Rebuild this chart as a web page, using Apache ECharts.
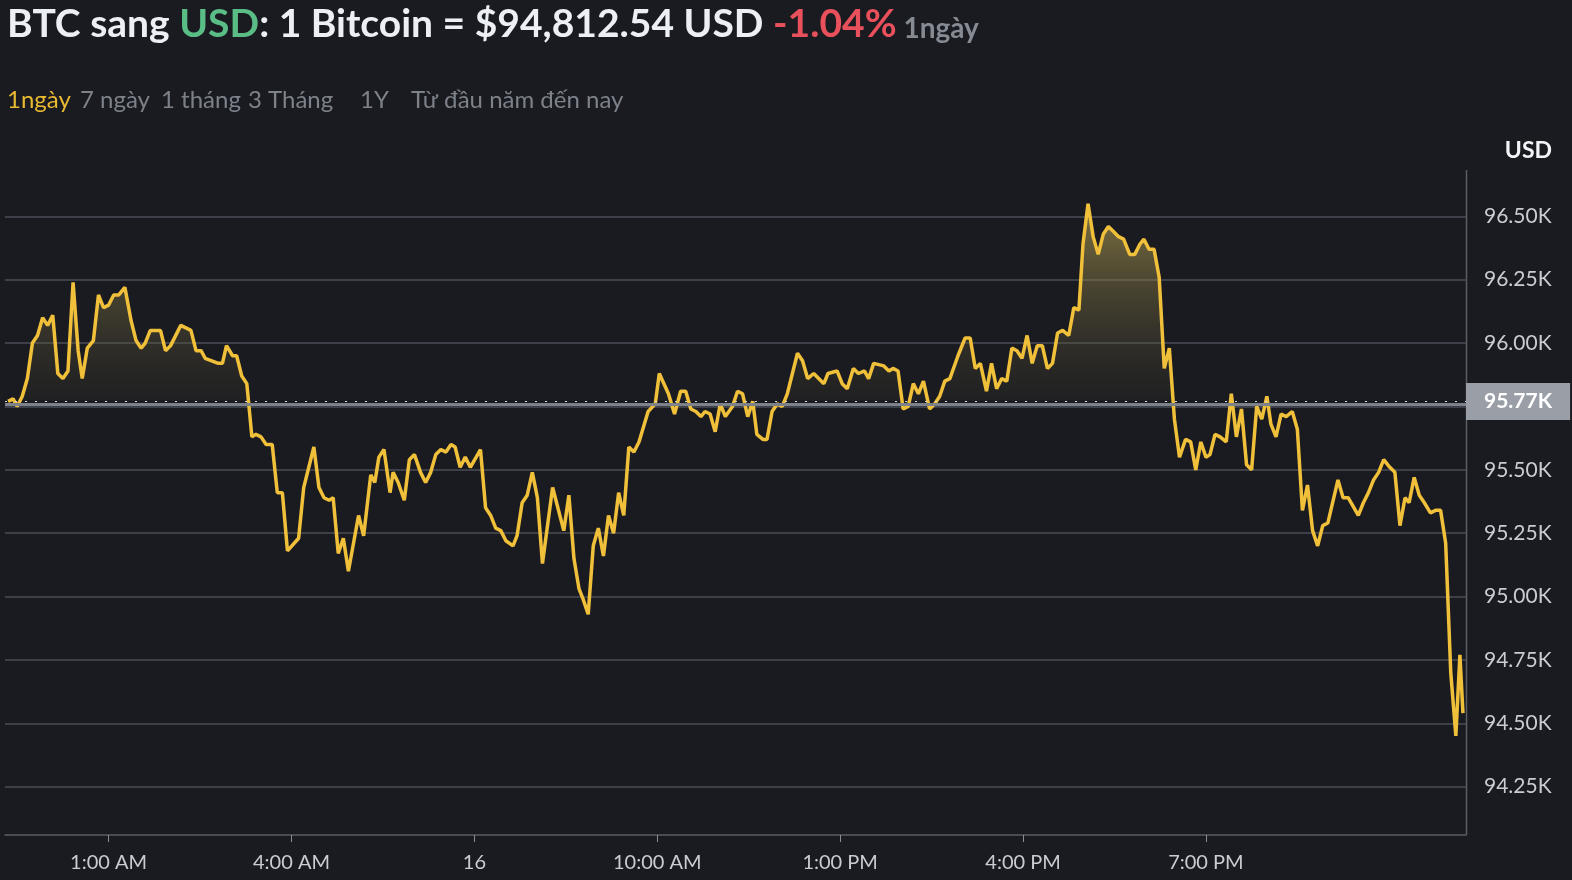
<!DOCTYPE html>
<html><head><meta charset="utf-8">
<script src="https://cdn.jsdelivr.net/npm/echarts@6/dist/echarts.min.js"></script>
<style>html,body{margin:0;padding:0;background:#1a1b20}#c{width:1572px;height:880px}</style>
</head><body><div id="c"></div>
<script>
// minutes since midnight of the 16th
const minutes = [-39,-34,-30,-25,-20,-15,-10,-5,0,5,10,15,20,25,30,34,39,45,50,55,60,65,70,76,82,87,92,96,101,111,116,121,131,136,141,146,151,155,168,172,176,182,186,191,196,201,205,210,215,221,226,231,236,247,252,262,267,272,277,281,286,291,296,306,311,
318,322,326,331,337,340,345,351,356,361,367,372,377,382,387,392,397,401,406,411,416,426,431,436,441,446,451,458,462,467,472,477,482,487,497,508,513,518,523,527,532,537,542,547,552,557,562,567,572,577,582,591,598,602,611,617,623,628,633,638,643,647,652,657,662,667,674,679,
684,689,694,698,704,708,713,718,723,728,738,743,748,754,764,768,777,782,787,793,798,804,808,813,823,828,832,837,842,847,852,857,862,868,873,878,883,888,896,903,908,913,918,924,929,934,939,944,949,954,959,964,969,974,979,984,989,994,999,1005,1010,1015,1019,1024,1029,1034,1039,1044,1049,1054,1059,1065,1070,1075,1079,1084,1089,1094,1099,1104,
1109,1114,1120,1125,1130,1135,1140,1144,1149,1154,1160,1165,1170,1175,1180,1185,1190,1195,1200,1204,1209,1214,1219,1225,1230,1235,1240,1245,1250,1255,1260,1270,1275,1280,1290,1295,1300,1305,1310,1315,1321,1326,1331,1336,1340,1345,1350,1355,1361,1366,1371,1376,1381,1386,1390,1393];
// price in thousands USD
const prices = [95.77,95.78,95.75,95.79,95.86,96.00,96.03,96.10,96.07,96.11,95.88,95.86,95.89,96.24,95.97,95.86,95.98,96.01,96.19,96.14,96.15,96.19,96.19,96.22,96.09,96.01,95.98,96.00,96.05,96.05,95.97,95.99,96.07,96.06,96.05,95.97,95.97,95.94,95.92,95.92,95.99,95.95,95.95,95.87,95.84,95.63,95.64,95.63,95.60,95.60,95.41,95.41,95.18,95.23,95.43,95.59,95.43,95.39,95.38,95.39,95.17,95.23,95.10,95.32,95.24,
95.48,95.45,95.55,95.58,95.41,95.49,95.45,95.38,95.54,95.56,95.49,95.45,95.49,95.56,95.58,95.57,95.60,95.59,95.51,95.55,95.51,95.58,95.35,95.32,95.27,95.26,95.22,95.20,95.24,95.37,95.40,95.49,95.39,95.13,95.43,95.26,95.40,95.15,95.03,94.99,94.93,95.20,95.27,95.16,95.32,95.25,95.41,95.32,95.59,95.57,95.61,95.73,95.76,95.88,95.80,95.72,95.81,95.81,95.74,95.73,95.71,95.73,95.72,95.65,95.76,95.71,95.75,95.81,
95.80,95.71,95.77,95.64,95.62,95.62,95.73,95.76,95.75,95.80,95.96,95.93,95.86,95.88,95.84,95.88,95.89,95.84,95.82,95.90,95.88,95.89,95.86,95.92,95.91,95.89,95.90,95.89,95.74,95.75,95.84,95.80,95.85,95.74,95.76,95.79,95.85,95.86,95.95,96.02,96.02,95.90,95.92,95.81,95.92,95.82,95.86,95.85,95.98,95.97,95.94,96.03,95.92,95.99,95.99,95.90,95.92,96.04,96.05,96.03,96.14,96.13,96.39,96.55,96.42,96.35,96.43,96.46,96.44,96.42,96.41,96.35,96.35,96.39,96.41,96.37,96.37,96.26,95.90,95.98,
95.70,95.55,95.62,95.61,95.50,95.61,95.55,95.56,95.64,95.63,95.61,95.80,95.63,95.74,95.52,95.50,95.75,95.70,95.79,95.68,95.63,95.72,95.71,95.73,95.66,95.34,95.44,95.26,95.20,95.28,95.29,95.46,95.39,95.39,95.32,95.37,95.41,95.46,95.49,95.54,95.51,95.49,95.28,95.39,95.37,95.47,95.40,95.37,95.33,95.34,95.34,95.21,94.70,94.45,94.77,94.54];
const tickMinutes = [60,240,420,600,780,960,1140];
const tickLabels = ['1:00 AM','4:00 AM','16','10:00 AM','1:00 PM','4:00 PM','7:00 PM'];
const refPrice = 95.77;
const ranges = ['1ngày','7 ngày','1 tháng','3 Tháng','1Y','Từ đầu năm đến nay'];

const font = 'Lato, "Open Sans", sans-serif';
const chart = echarts.init(document.getElementById('c'), null, {renderer:'canvas'});
const data = minutes.map((m,i)=>[m, prices[i]]);
const rangeX = [7,80,161,248,360,411];
chart.setOption({
  backgroundColor:'#1a1b20',
  animation:false,
  grid:{left:5,right:106,top:153,bottom:30},
  title:{left:2,top:0,text:'{w|BTC sang }{g|USD}{w|: 1 Bitcoin = $94,812.54 USD }{r|-1.04%}{s| 1ngày}',
    textStyle:{rich:{
      w:{fontFamily:font,fontWeight:'bold',fontSize:39,color:'#eceff3'},
      g:{fontFamily:font,fontWeight:'bold',fontSize:39,color:'#5bbd86'},
      r:{fontFamily:font,fontWeight:'bold',fontSize:39,color:'#e8505b'},
      s:{fontFamily:font,fontSize:28,color:'#858a93',padding:[8,0,0,0]}}}},
  graphic:[
    ...ranges.map((t,i)=>({type:'text',left:rangeX[i],top:88,style:{text:t,font:'24px '+font,fill:i===0?'#e8b931':'#7c818a'}})),
    {type:'text',right:20,top:139,style:{text:'USD',font:'bold 23px '+font,fill:'#f2f4f7'}},
    {type:'line',shape:{x1:1466.5,y1:170,x2:1466.5,y2:835},style:{stroke:'#5a5e66',lineWidth:1.5}}
  ],
  xAxis:{type:'value',min:-42,max:1396,offset:-15,
    axisLine:{show:true,lineStyle:{color:'#5a5e66',width:1.5}},
    axisTick:{show:true,customValues:tickMinutes,length:7,lineStyle:{color:'#8a8e96'}},
    axisLabel:{customValues:tickMinutes,color:'#c9ccd2',fontSize:20,fontFamily:font,margin:18,
      formatter:v=>tickLabels[tickMinutes.indexOf(v)]},
    splitLine:{show:false}},
  yAxis:{type:'value',position:'right',min:94,max:96.75,interval:0.25,
    axisLine:{show:false},axisTick:{show:false},
    axisLabel:{color:'#c9ccd2',fontSize:21,fontFamily:font,margin:18,
      showMinLabel:false,showMaxLabel:false,
      formatter:v=>(Math.abs(v-95.75)<0.01)?'':v.toFixed(2)+'K'},
    splitLine:{showMinLine:false,showMaxLine:false,lineStyle:{color:'#4a4e56',width:1.5}}},
  series:[{type:'line',data:data,symbol:'none',smooth:false,
    lineStyle:{color:'#f0c03a',width:3.5},
    areaStyle:{origin:refPrice,color:new echarts.graphic.LinearGradient(0,200,0,403,[
      {offset:0,color:'rgba(215,190,95,0.8)'},{offset:0.985,color:'rgba(60,58,45,0.25)'},{offset:1,color:'rgba(0,0,0,0)'}],true)},
    markLine:{silent:true,symbol:'none',data:[
      {yAxis:refPrice-0.012,lineStyle:{color:'#7d8189',type:'solid',width:3},label:{show:false}},
      {yAxis:refPrice,lineStyle:{color:'#d5d8dd',type:[2,8],width:1.2},
        label:{show:true,position:'end',distance:0,formatter:'95.77K',color:'#ffffff',fontWeight:'bold',
          fontSize:21,fontFamily:font,backgroundColor:'#9a9ea6',padding:[8,18,8,18]}}]}
  }]
});
</script></body></html>
